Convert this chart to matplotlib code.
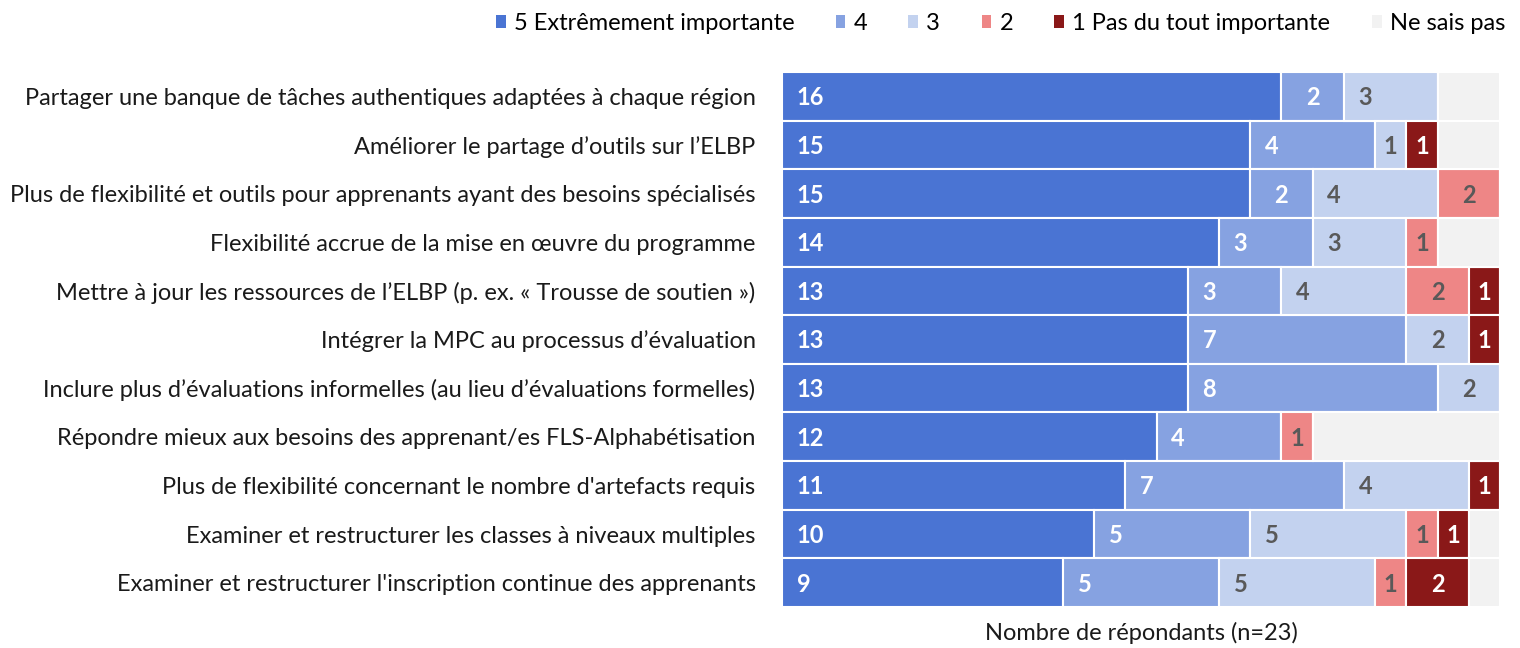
import matplotlib
matplotlib.use("Agg")
import matplotlib.pyplot as plt
from matplotlib.patches import Patch

plt.rcParams['font.family'] = ['Lato', 'DejaVu Sans']

categories = [
    "Partager une banque de tâches authentiques adaptées à chaque région",
    "Améliorer le partage d’outils sur l’ELBP",
    "Plus de flexibilité et outils pour apprenants ayant des besoins spécialisés",
    "Flexibilité accrue de la mise en œuvre du programme",
    "Mettre à jour les ressources de l’ELBP (p. ex. « Trousse de soutien »)",
    "Intégrer la MPC au processus d’évaluation",
    "Inclure plus d’évaluations informelles (au lieu d’évaluations formelles)",
    "Répondre mieux aux besoins des apprenant/es FLS-Alphabétisation",
    "Plus de flexibilité concernant le nombre d'artefacts requis",
    "Examiner et restructurer les classes à niveaux multiples",
    "Examiner et restructurer l'inscription continue des apprenants",
]
series_names = ["5 Extrêmement importante", "4", "3", "2", "1 Pas du tout importante", "Ne sais pas"]
s5 = [16, 15, 15, 14, 13, 13, 13, 12, 11, 10, 9]
s4 = [2, 4, 2, 3, 3, 7, 8, 4, 7, 5, 5]
s3 = [3, 1, 4, 3, 4, 2, 2, 0, 4, 5, 5]
s2 = [0, 0, 2, 1, 2, 0, 0, 1, 0, 1, 1]
s1 = [0, 1, 0, 0, 1, 1, 0, 0, 1, 1, 2]
nsp = [2, 2, 0, 2, 0, 0, 0, 6, 0, 1, 1]
total_n = 23
xlabel = "Nombre de répondants (n=23)"

colors = ["#4A74D3", "#86A2E1", "#C3D2EF", "#EE8686", "#8A1818", "#F2F2F2"]
label_colors = ["white", "white", "#595959", "#595959", "white", None]

fig = plt.figure(figsize=(15.2, 6.48), dpi=100)
ax = fig.add_axes([782/1520, 1-607/648, (1500-782)/1520, (607-72)/648])

all_series = [s5, s4, s3, s2, s1, nsp]
n = len(categories)
y = list(range(n))
left = [0]*n
for si, vals in enumerate(all_series):
    ax.barh(y, vals, left=left, height=1.0, color=colors[si], edgecolor="white", linewidth=1.5)
    if label_colors[si] is not None:
        for i, v in enumerate(vals):
            if v <= 0:
                continue
            if v <= 2:
                ax.text(left[i] + v/2, i + 0.03, str(v), ha="center", va="center",
                        color=label_colors[si], fontsize=17, fontweight="bold")
            else:
                ax.text(left[i] + 0.47, i + 0.03, str(v), ha="left", va="center",
                        color=label_colors[si], fontsize=17, fontweight="bold")
    left = [l + v for l, v in zip(left, vals)]

ax.set_xlim(0, total_n)
ax.set_ylim(n - 0.5, -0.5)
ax.set_yticks(y)
ax.set_yticklabels(categories, fontsize=17, color="#1a1a1a")
ax.tick_params(axis="y", length=0, pad=19)
ax.set_xticks([])
for sp in ax.spines.values():
    sp.set_visible(False)
ax.set_xlabel(xlabel, fontsize=17, color="#1a1a1a", labelpad=11)

handles = [Patch(facecolor=c, edgecolor="none") for c in colors]
fig.legend(handles, series_names, loc="upper right", bbox_to_anchor=(1518/1520, 1.0),
           ncol=6, frameon=False, fontsize=17, handlelength=0.42, handleheight=0.42,
           handletextpad=0.34, columnspacing=1.75, borderaxespad=0.15)

fig.savefig("out.png", dpi=100, facecolor="white")
